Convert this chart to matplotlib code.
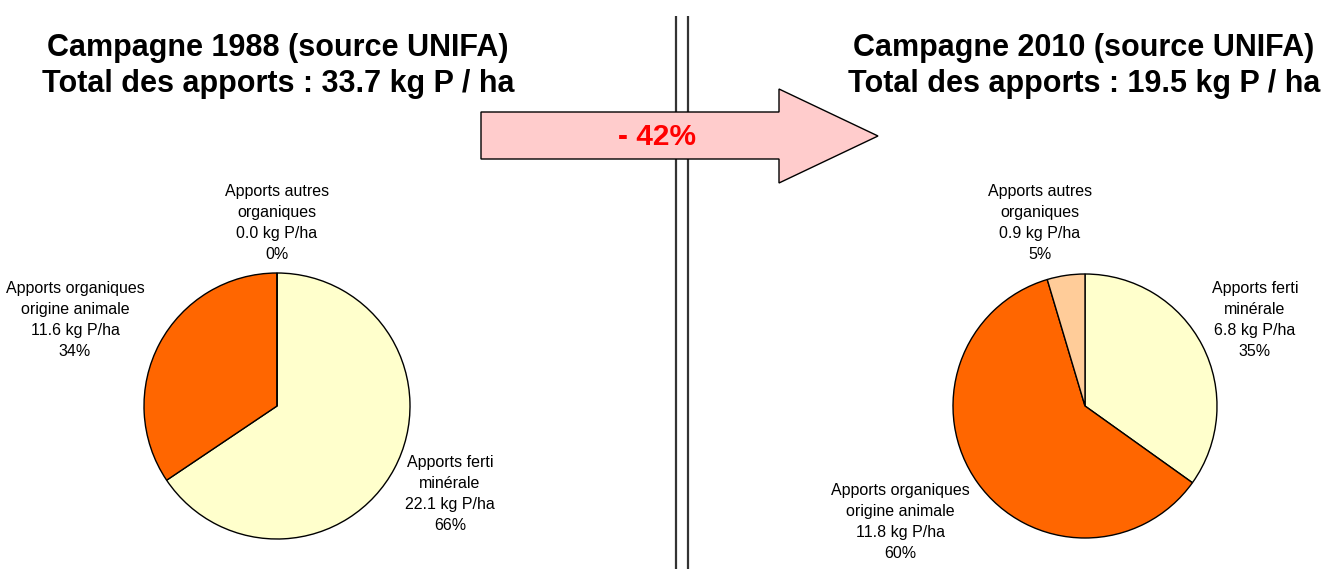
import matplotlib
matplotlib.use("Agg")
import matplotlib.pyplot as plt
from matplotlib.patches import Polygon

plt.rcParams['font.family'] = ['Liberation Sans', 'DejaVu Sans']

# Data
categories = ["Apports ferti\nminérale", "Apports organiques\norigine animale", "Apports autres\norganiques"]
values_1988 = [22.1, 11.6, 0.0]
pcts_1988 = [66, 34, 0]
values_2010 = [6.8, 11.8, 0.9]
pcts_2010 = [35, 60, 5]
totals = {"1988": 33.7, "2010": 19.5}
change_label = "- 42%"
colors = ["#FFFFCC", "#FF6600", "#FFCC99"]

W, H = 1327, 569
fig = plt.figure(figsize=(W / 100, H / 100), dpi=100)
ax = fig.add_axes([0, 0, 1, 1])


def Y(py):
    return H - py


def draw_pie(vals, cx, cy, r):
    ax.pie(vals, colors=colors, startangle=90, counterclock=False,
           center=(cx, Y(cy)), radius=r, frame=True,
           wedgeprops=dict(edgecolor="black", linewidth=1.0))


draw_pie(values_1988, 277, 406, 133)
draw_pie(values_2010, 1085, 406, 132)

ax.set_xlim(0, W)
ax.set_ylim(0, H)
ax.set_aspect("auto")
ax.axis("off")

# separator double line
for x in (676, 688):
    ax.plot([x, x], [Y(16), Y(569)], color="#333333", lw=1.6, zorder=1,
            solid_capstyle="butt")

# arrow
pts = [(481, 112), (779, 112), (779, 89), (878, 136), (779, 183), (779, 159), (481, 159)]
ax.add_patch(Polygon([(x, Y(y)) for x, y in pts], closed=True,
                     facecolor="#FFCCCC", edgecolor="black", lw=1.0, zorder=2))
ax.text(657, Y(137), change_label, color="#FF0000", fontsize=21.5,
        fontweight="bold", ha="center", va="center", zorder=3)

# titles
ax.text(278, Y(66), "Campagne 1988 (source UNIFA)\nTotal des apports : %.1f kg P / ha" % totals["1988"],
        fontsize=22, fontweight="bold", ha="center", va="center", linespacing=1.22)
ax.text(1084, Y(66), "Campagne 2010 (source UNIFA)\nTotal des apports : %.1f kg P / ha" % totals["2010"],
        fontsize=22, fontweight="bold", ha="center", va="center", linespacing=1.22)


def lab(x, y, cat, v, p):
    ax.text(x, Y(y), "%s\n%.1f kg P/ha\n%d%%" % (cat, v, p), fontsize=11.5,
            ha="center", va="center", linespacing=1.5, zorder=3)


# 1988 labels
lab(450, 494, categories[0], values_1988[0], pcts_1988[0])
lab(75, 320, categories[1], values_1988[1], pcts_1988[1])
lab(277, 223, categories[2], values_1988[2], pcts_1988[2])

# 2010 labels
lab(1255, 320, categories[0], values_2010[0], pcts_2010[0])
lab(900, 522, categories[1], values_2010[1], pcts_2010[1])
lab(1040, 223, categories[2], values_2010[2], pcts_2010[2])

fig.savefig("out.png", dpi=100)
